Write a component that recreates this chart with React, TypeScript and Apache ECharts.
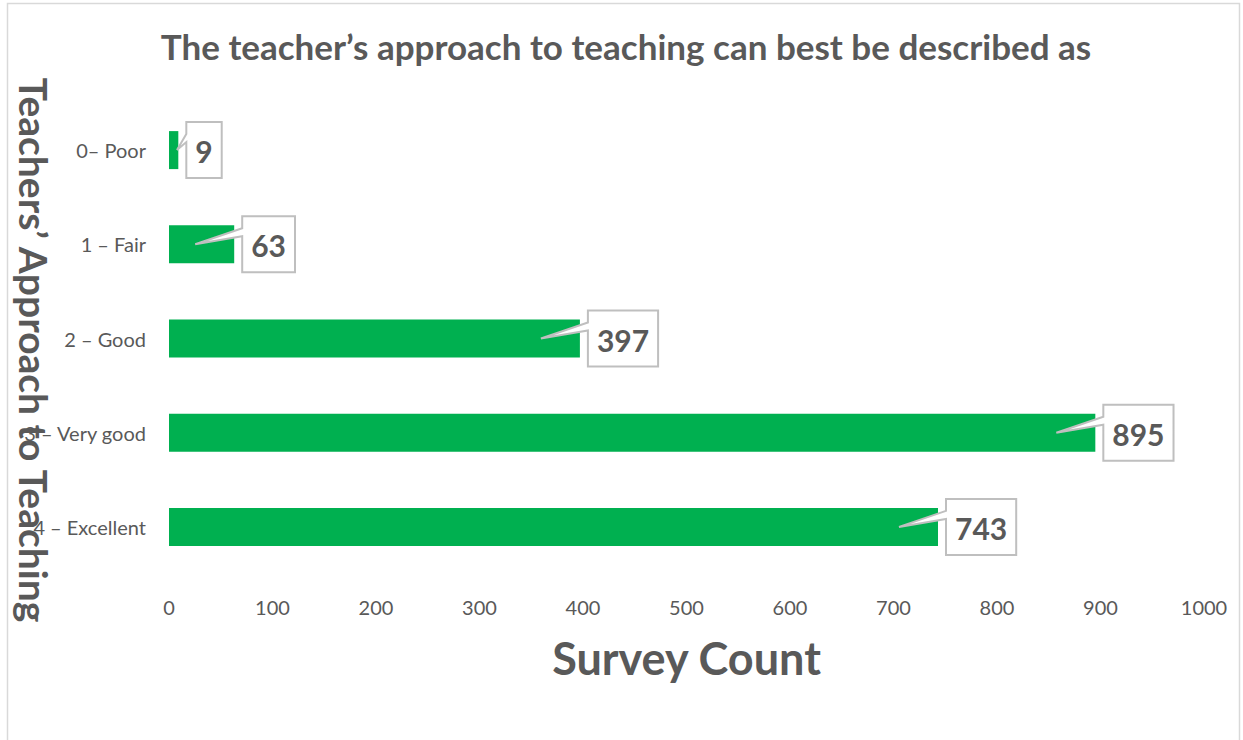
import React, { useEffect, useRef } from "react";
import * as echarts from "echarts";

const categories = ["0– Poor", "1 – Fair", "2 – Good", "3 – Very good", "4 – Excellent"];
const surveyCounts = [9, 63, 397, 895, 743];
const xMin = 0;
const xMax = 1000;
const xInterval = 100;
const chartTitle = "The teacher’s approach to teaching can best be described as";
const xAxisTitle = "Survey Count";
const yAxisTitle = "Teachers’ Approach to Teaching";

const TEXT = "#595959";
const GREEN = "#00b050";
const FONT = "Lato";
const LABEL_FONT = `bold 30px ${FONT}`;

let measureCtx: CanvasRenderingContext2D | null = null;
function measure(text: string): number {
  if (!measureCtx) {
    const c = document.createElement("canvas");
    measureCtx = c.getContext("2d");
  }
  if (!measureCtx) return text.length * 18;
  measureCtx.font = LABEL_FONT;
  return measureCtx.measureText(text).width;
}

export default function App() {
  const ref = useRef<HTMLDivElement>(null);

  useEffect(() => {
    if (!ref.current) return;
    const chart = echarts.init(ref.current, undefined, { renderer: "svg" });
    const calloutData = surveyCounts.map((v, i) => [v, i]);

    chart.setOption({
      animation: false,
      backgroundColor: "#ffffff",
      title: {
        text: chartTitle,
        left: 621,
        textAlign: "center",
        top: 23,
        textStyle: { fontFamily: FONT, fontSize: 35, fontWeight: "bold", color: TEXT },
      },
      grid: { left: 169, right: 39, top: 103, bottom: 166, containLabel: false },
      xAxis: {
        type: "value",
        min: xMin,
        max: xMax,
        interval: xInterval,
        name: xAxisTitle,
        nameLocation: "middle",
        nameGap: 61,
        nameTextStyle: { fontFamily: FONT, fontSize: 45, fontWeight: "bold", color: TEXT },
        axisLine: { show: false },
        axisTick: { show: false },
        splitLine: { show: false },
        axisLabel: {
          color: TEXT,
          fontFamily: FONT,
          fontSize: 20,
          margin: 23,
          formatter: (v: number) => String(v),
        },
      },
      yAxis: {
        type: "category",
        inverse: true,
        data: categories,
        axisLine: { show: false },
        axisTick: { show: false },
        splitLine: { show: false },
        axisLabel: { color: TEXT, fontFamily: FONT, fontSize: 20, margin: 23 },
      },
      graphic: [
        {
          type: "rect",
          z: -10,
          silent: true,
          shape: { x: 7.5, y: 3.5, width: 1232, height: 800 },
          style: { fill: "none", stroke: "#d9d9d9", lineWidth: 1.5 },
        },
        {
          type: "text",
          z: 100,
          x: 34,
          y: 350,
          rotation: -Math.PI / 2,
          style: {
            text: yAxisTitle,
            fontFamily: FONT,
            fontSize: 39,
            fontWeight: "bold",
            fill: TEXT,
            align: "center",
            verticalAlign: "middle",
          },
        },
      ],
      series: [
        {
          type: "bar",
          data: surveyCounts,
          barWidth: 38,
          itemStyle: { color: GREEN },
          label: { show: false },
        },
        {
          type: "custom",
          coordinateSystem: "cartesian2d",
          data: calloutData,
          encode: { x: 0, y: 1 },
          clip: false,
          z: 10,
          renderItem: (params: any, api: any) => {
            const v = api.value(0);
            const idx = api.value(1);
            const end = api.coord([v, idx]);
            const start = api.coord([0, idx]);
            const cy = end[1];
            const text = String(v);
            const w = measure(text) + 18;
            const h = 56;
            const L = end[0] + 8;
            const R = L + w;
            const T = cy - h / 2;
            const B = cy + h / 2;
            const tipX = Math.max(start[0] + 8, end[0] - 39);
            return {
              type: "group",
              children: [
                {
                  type: "polygon",
                  shape: {
                    points: [
                      [L, T],
                      [R, T],
                      [R, B],
                      [L, B],
                      [L, cy - 8],
                      [tipX, cy],
                      [L, cy - 16],
                    ],
                  },
                  style: { fill: "#ffffff", stroke: "#bfbfbf", lineWidth: 2 },
                },
                {
                  type: "text",
                  style: {
                    text,
                    x: (L + R) / 2,
                    y: cy + 1,
                    align: "center",
                    verticalAlign: "middle",
                    fontFamily: FONT,
                    fontSize: 30,
                    fontWeight: "bold",
                    fill: TEXT,
                  },
                },
              ],
            };
          },
        },
      ],
    });

    return () => chart.dispose();
  }, []);

  return (
    <div
      ref={ref}
      style={{ position: "fixed", left: 0, top: 0, width: 1243, height: 740, background: "#fff" }}
    />
  );
}
